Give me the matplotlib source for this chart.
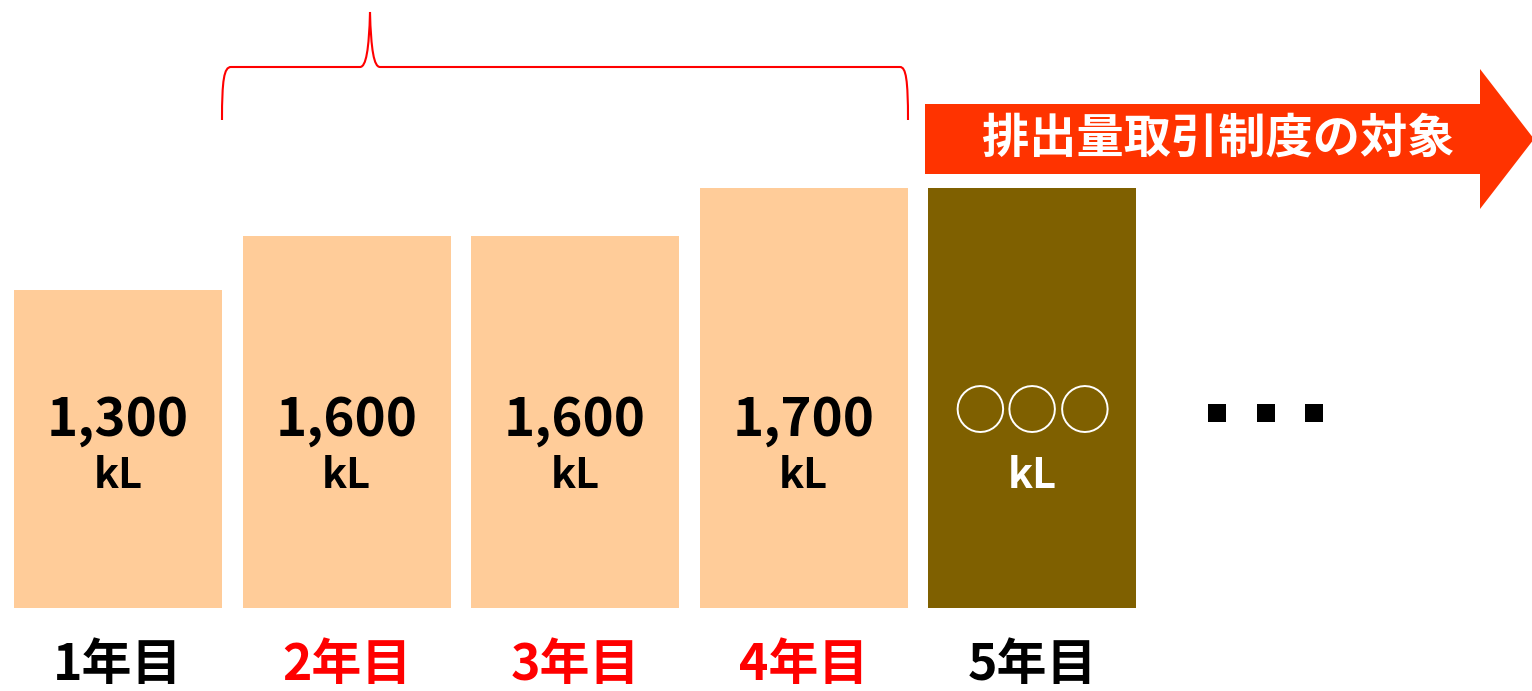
import matplotlib.pyplot as plt
import matplotlib.patches as mpatches
from matplotlib.path import Path
import numpy as np

plt.rcParams['font.family'] = ['Noto Sans CJK JP', 'DejaVu Sans']

# data
years = ['1年目', '2年目', '3年目', '4年目', '5年目']
year_colors = ['black', 'red', 'red', 'red', 'black']
bar_heights = [318, 372, 372, 420, 420]   # drawn heights (not to scale with values)
value_labels = ['1,300', '1,600', '1,600', '1,700', '○○○']
unit_labels = ['kL'] * 5
bar_colors = ['#FFCC99', '#FFCC99', '#FFCC99', '#FFCC99', '#7F6000']
text_colors = ['black', 'black', 'black', 'black', 'white']
arrow_text = '排出量取引制度の対象'

W, H = 1532, 691
fig = plt.figure(figsize=(W / 100, H / 100), dpi=100)
ax = fig.add_axes([0, 0, 1, 1])

x = np.arange(len(years))
step = 228.5
ax.bar(x, bar_heights, width=208 / step, color=bar_colors, zorder=2)
ax.set_xlim(-118 / step, (W - 118) / step)
ax.set_ylim(-(H - 608), 608)
ax.axis('off')

for i in x:
    if value_labels[i] == '○○○':
        ax.text(i, 195, value_labels[i], ha='center', va='center', fontsize=38,
                color=text_colors[i], zorder=3)
    else:
        ax.text(i, 188, value_labels[i], ha='center', va='center', fontsize=38,
                weight='bold', color=text_colors[i], zorder=3)
    ax.text(i, 132, unit_labels[i], ha='center', va='center', fontsize=30,
            weight='bold', color=text_colors[i], zorder=3)
    ax.text(i, -58, years[i], ha='center', va='center', fontsize=36,
            weight='bold', color=year_colors[i], zorder=3)

# overlay in pixel coordinates for the dots, the brace and the arrow
ov = fig.add_axes([0, 0, 1, 1], facecolor='none')
ov.set_xlim(0, W)
ov.set_ylim(H, 0)
ov.axis('off')

ov.scatter([1217, 1266, 1314], [413] * 3, marker='s', s=150,
           color='black', linewidths=0, zorder=3)

verts = [(222, 120), (222, 80), (224, 67), (231, 67),
         (360, 67),
         (366, 67), (369, 50), (370, 12),
         (371, 50), (374, 67), (380, 67),
         (900, 67),
         (906, 67), (908, 80), (908, 120)]
codes = [Path.MOVETO, Path.CURVE4, Path.CURVE4, Path.CURVE4,
         Path.LINETO,
         Path.CURVE4, Path.CURVE4, Path.CURVE4,
         Path.CURVE4, Path.CURVE4, Path.CURVE4,
         Path.LINETO,
         Path.CURVE4, Path.CURVE4, Path.CURVE4]
ov.add_patch(mpatches.PathPatch(Path(verts, codes), facecolor='none',
                                edgecolor='red', linewidth=1.5))

arrow = mpatches.Polygon([(925, 104), (1480, 104), (1480, 69), (1534, 139),
                          (1480, 209), (1480, 174), (925, 174)],
                         closed=True, facecolor='#FF3300', edgecolor='none')
ov.add_patch(arrow)
ov.text(1218, 139, arrow_text, ha='center', va='center', fontsize=34,
        weight='bold', color='white')

fig.savefig('out.png', dpi=100)
